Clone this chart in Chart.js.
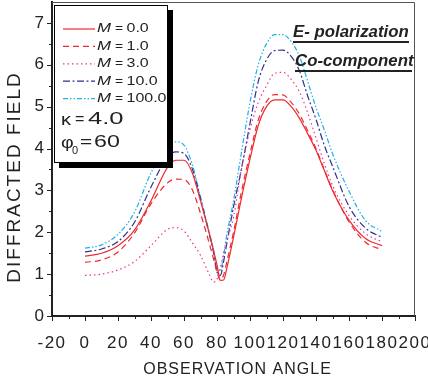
<!DOCTYPE html>
<html>
<head>
<meta charset="utf-8">
<script src="https://cdn.jsdelivr.net/npm/chart.js@4.4.0/dist/chart.umd.min.js"></script>
<style>
html, body { margin: 0; padding: 0; background: #fff; }
</style>
</head>
<body>
<canvas id="field" width="428" height="384"></canvas>
<script>
// observation angles (deg) shared by all curves
var angles = [0, 10, 20, 30, 40, 50, 55, 60, 65, 70, 75, 78, 80, 82, 84, 86, 90, 95, 100, 105, 110, 115, 120, 125, 130, 135, 140, 145, 150, 160, 170, 180];

// diffracted field, one array per M
var fieldM0   = [1.43, 1.50, 1.68, 2.05, 2.75, 3.55, 3.72, 3.72, 3.42, 2.75, 2.02, 1.55, 1.22, 0.85, 0.86, 1.15, 1.88, 2.85, 3.75, 4.55, 5.00, 5.16, 5.16, 5.00, 4.72, 4.35, 3.96, 3.48, 3.00, 2.29, 1.85, 1.68];
var fieldM1   = [1.28, 1.34, 1.53, 1.98, 2.68, 3.18, 3.27, 3.26, 3.02, 2.45, 1.78, 1.35, 1.05, 0.86, 0.98, 1.30, 2.00, 3.00, 3.88, 4.68, 5.12, 5.29, 5.28, 5.10, 4.82, 4.42, 4.00, 3.50, 3.02, 2.25, 1.76, 1.58];
var fieldM3   = [0.97, 1.00, 1.10, 1.30, 1.68, 2.07, 2.11, 2.03, 1.75, 1.45, 1.02, 0.81, 0.88, 1.15, 1.50, 1.80, 2.35, 3.55, 4.45, 5.10, 5.50, 5.80, 5.82, 5.65, 5.35, 4.85, 4.25, 3.65, 3.12, 2.40, 1.97, 1.77];
var fieldM10  = [1.53, 1.60, 1.78, 2.24, 3.08, 3.80, 3.92, 3.88, 3.52, 2.80, 2.00, 1.50, 1.05, 0.97, 1.30, 1.75, 2.60, 3.55, 4.60, 5.60, 6.12, 6.34, 6.35, 6.20, 5.85, 5.25, 4.70, 4.08, 3.58, 2.62, 2.10, 1.88];
var fieldM100 = [1.62, 1.70, 1.95, 2.48, 3.42, 4.06, 4.16, 4.08, 3.62, 2.85, 2.05, 1.55, 1.10, 1.08, 1.45, 1.95, 2.75, 3.95, 5.10, 6.00, 6.50, 6.72, 6.72, 6.55, 6.20, 5.60, 4.98, 4.45, 3.88, 2.98, 2.28, 2.02];

var mLabels = ['0.0', '1.0', '3.0', '10.0', '100.0'];
var kappa = '4.0';
var phi0 = '60';

var FONT = '"Liberation Sans", Arial, Helvetica, sans-serif';
var INK = '#222';

function pts(vals) {
  return angles.map(function (a, i) { return { x: a, y: vals[i] }; });
}

function curve(i, vals, color, dash) {
  return {
    label: mLabels[i],
    data: pts(vals),
    borderColor: color,
    borderDash: dash,
    borderWidth: 1.2,
    pointRadius: 0,
    fill: false,
    cubicInterpolationMode: 'monotone'
  };
}

// text drawn wider than the font, like the original figure
function wide(ctx, text, x, y, font, sx) {
  ctx.save();
  ctx.font = font;
  ctx.translate(x, y);
  ctx.scale(sx, 1);
  ctx.fillText(text, 0, 0);
  ctx.restore();
}

var extras = {
  id: 'extras',
  beforeDraw: function (chart) {
    // the original tick labels are loosely spaced
    chart.ctx.letterSpacing = '1.5px';
  },
  afterDraw: function (chart) {
    var ctx = chart.ctx;
    var a = chart.chartArea;
    var xs = chart.scales.x, ys = chart.scales.y;
    ctx.save();
    ctx.letterSpacing = '0px';

    // top / right frame
    ctx.strokeStyle = '#555';
    ctx.lineWidth = 1;
    ctx.beginPath();
    ctx.moveTo(a.left, a.top + 0.5);
    ctx.lineTo(a.right - 0.5, a.top + 0.5);
    ctx.lineTo(a.right - 0.5, a.bottom);
    ctx.stroke();

    // tick marks, majors longer
    ctx.strokeStyle = INK;
    ctx.beginPath();
    for (var v = -20; v <= 200; v += 10) {
      var px = Math.round(xs.getPixelForValue(v)) + 0.5;
      ctx.moveTo(px, a.bottom);
      ctx.lineTo(px, a.bottom + (v % 20 === 0 ? 5 : 3));
    }
    for (var w = 0; w <= 7; w += 0.5) {
      var py = Math.round(ys.getPixelForValue(w)) + 0.5;
      ctx.moveTo(a.left, py);
      ctx.lineTo(a.left - (w % 1 === 0 ? 5 : 3), py);
    }
    ctx.stroke();

    // axis titles
    ctx.fillStyle = INK;
    ctx.textAlign = 'center';
    ctx.textBaseline = 'middle';
    ctx.font = '16px ' + FONT;
    ctx.letterSpacing = '1px';
    ctx.fillText('OBSERVATION ANGLE', (a.left + a.right) / 2 + 4, 370);
    ctx.save();
    ctx.translate(15, 177);
    ctx.rotate(-Math.PI / 2);
    ctx.font = '19px ' + FONT;
    ctx.letterSpacing = '2px';
    ctx.fillText('DIFFRACTED FIELD', 0, 0);
    ctx.restore();
    ctx.letterSpacing = '0px';

    // legend box with shadow
    var bx = 54, by = 5, bw = 114, bh = 158;
    ctx.fillStyle = '#000';
    ctx.fillRect(bx + 5, by + 5, bw, bh);
    ctx.fillStyle = '#fff';
    ctx.fillRect(bx, by, bw, bh);
    ctx.strokeStyle = '#000';
    ctx.strokeRect(bx + 0.5, by + 0.5, bw - 1, bh - 1);

    ctx.textAlign = 'left';
    chart.data.datasets.forEach(function (ds, i) {
      var y = 29 + i * 17.4;
      ctx.strokeStyle = ds.borderColor;
      ctx.lineWidth = 1.2;
      ctx.setLineDash(ds.borderDash);
      ctx.beginPath();
      ctx.moveTo(63, y);
      ctx.lineTo(95, y);
      ctx.stroke();
      ctx.setLineDash([]);
      ctx.fillStyle = INK;
      wide(ctx, 'M', 97, y, 'italic 12px ' + FONT, 1.4);
      wide(ctx, '=', 115, y, '12px ' + FONT, 1.15);
      wide(ctx, ds.label, 126.5, y, '12px ' + FONT, 1.33);
    });

    wide(ctx, '\u03ba', 61, 121, '16px ' + FONT, 1.25);
    wide(ctx, '=', 75, 120, '16px ' + FONT, 1.0);
    wide(ctx, kappa, 88, 120, '16px ' + FONT, 1.6);
    wide(ctx, '\u03c6', 61, 143, '17px ' + FONT, 1.15);
    wide(ctx, '0', 72, 151, '11px ' + FONT, 1.0);
    wide(ctx, '=', 80, 143, '16px ' + FONT, 1.3);
    wide(ctx, phi0, 94, 143, '16px ' + FONT, 1.45);

    // annotation, underlined
    wide(ctx, 'E- polarization', 293, 33, 'italic bold 16px ' + FONT, 1.05);
    wide(ctx, 'Co-component', 295, 62, 'italic bold 16px ' + FONT, 1.05);
    ctx.fillRect(293, 41, 116, 2);
    ctx.fillRect(295, 70, 117, 2);

    ctx.restore();
  }
};

new Chart(document.getElementById('field'), {
  type: 'line',
  data: {
    datasets: [
      curve(0, fieldM0, '#ee2a2e', []),
      curve(1, fieldM1, '#ee2a2e', [6, 4]),
      curve(2, fieldM3, '#e8369e', [1.5, 3]),
      curve(3, fieldM10, '#2e3192', [7, 2.5, 2, 2.5]),
      curve(4, fieldM100, '#22b0e8', [5, 2, 1.5, 2, 1.5, 2])
    ]
  },
  options: {
    responsive: false,
    animation: false,
    layout: { padding: { top: 2, right: 13, left: 0, bottom: 0 } },
    plugins: { legend: { display: false }, tooltip: { enabled: false } },
    scales: {
      x: {
        type: 'linear',
        min: -20,
        max: 200,
        grid: { display: false, drawTicks: false },
        border: { display: true, color: INK, width: 2 },
        ticks: {
          stepSize: 20,
          autoSkip: false,
          maxRotation: 0,
          padding: 17.5,
          color: INK,
          font: { family: FONT, size: 17 }
        },
        afterFit: function (s) { s.height = 68; s.paddingLeft = 0; s.paddingRight = 0; }
      },
      y: {
        min: 0,
        max: 7.5,
        grid: { display: false, drawTicks: false },
        border: { display: true, color: INK, width: 2 },
        ticks: {
          stepSize: 1,
          includeBounds: false,
          padding: 6.5,
          color: INK,
          font: { family: FONT, size: 17 }
        },
        afterFit: function (s) { s.width = 52; s.paddingTop = 0; s.paddingBottom = 0; }
      }
    }
  },
  plugins: [extras]
});
</script>
</body>
</html>
